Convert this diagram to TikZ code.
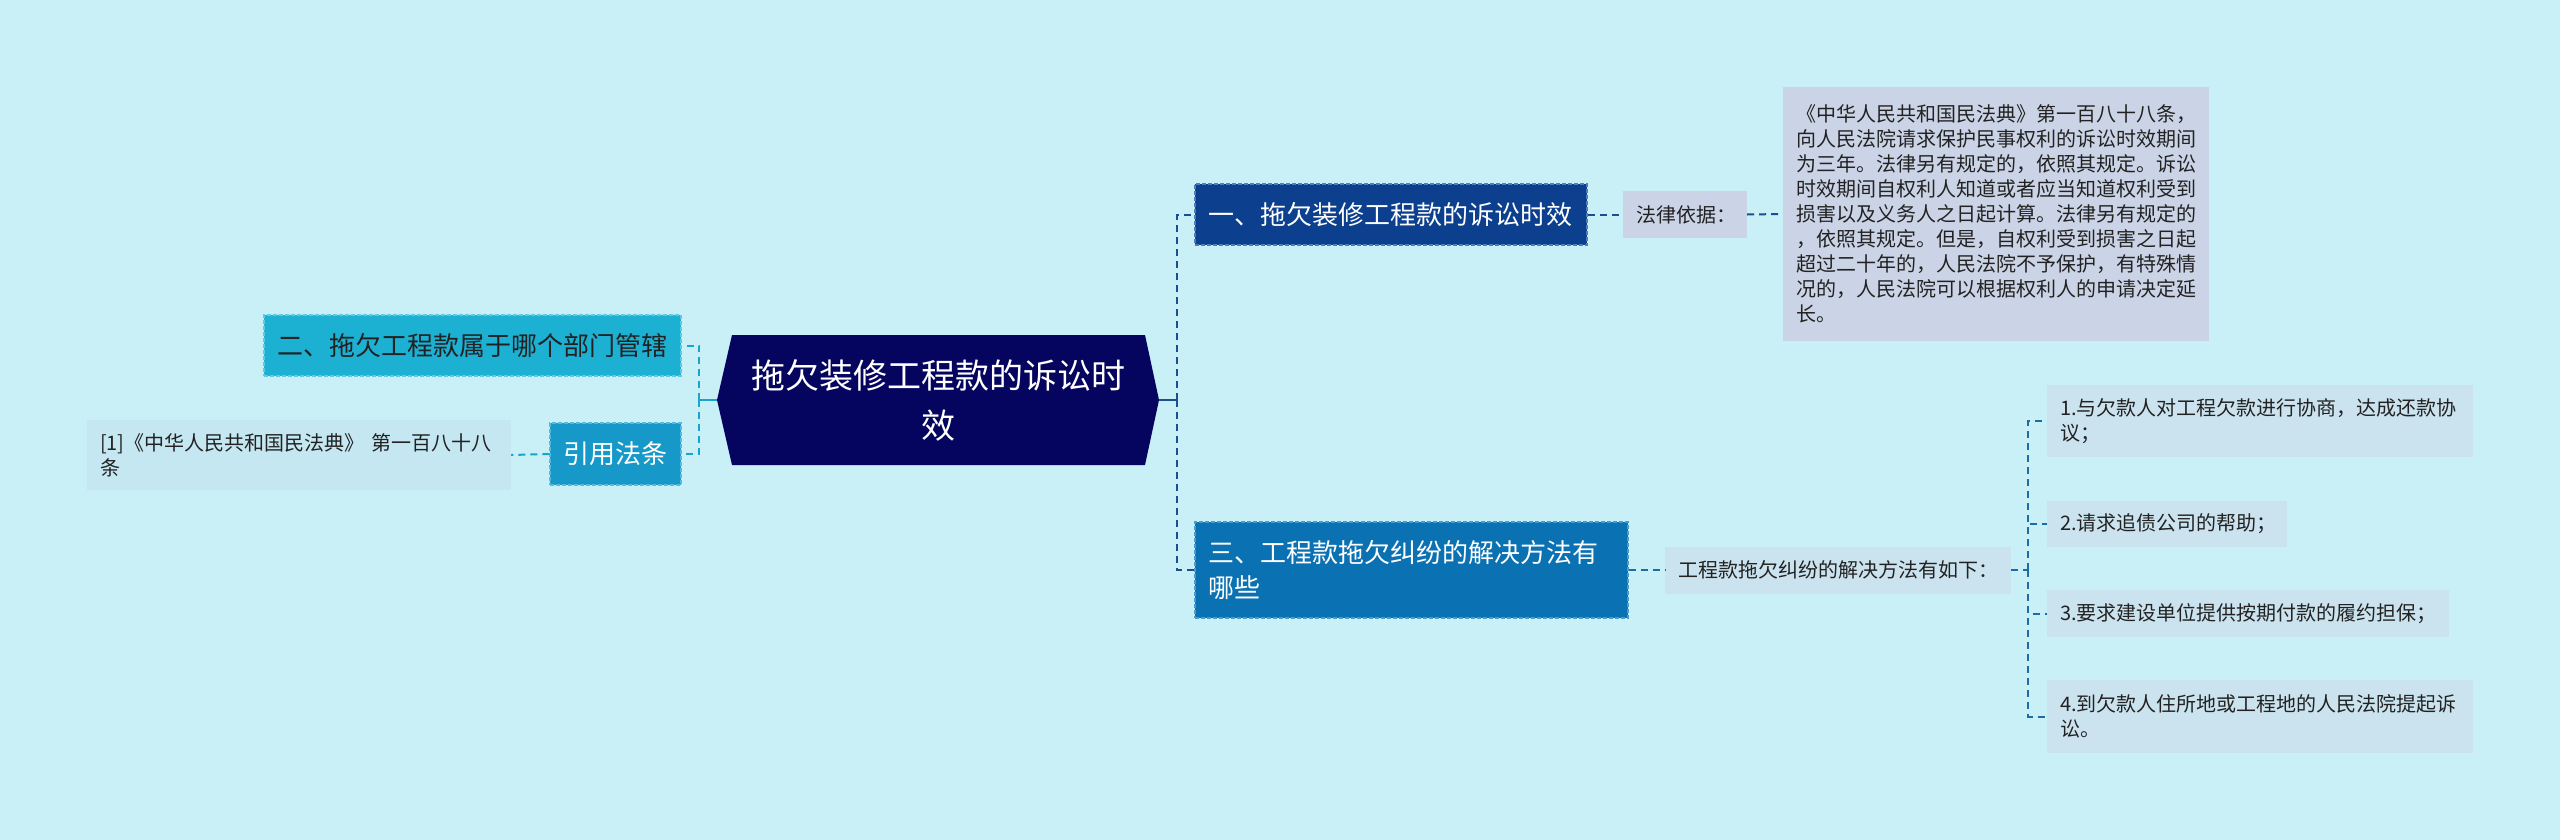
\documentclass[tikz,border=0pt]{standalone}
\usepackage{fontspec}
\newfontfamily\cjk{Noto Sans CJK SC}
\usetikzlibrary{calc}
\definecolor{bg}{HTML}{C9EFF7}
\definecolor{rootc}{HTML}{05055F}
\definecolor{nA}{HTML}{0C3F8E}
\definecolor{nAb}{HTML}{4F7DBA}
\definecolor{nC}{HTML}{0A71B3}
\definecolor{nCb}{HTML}{4A9BD0}
\definecolor{nB}{HTML}{1CB0D3}
\definecolor{nBb}{HTML}{5FCBE3}
\definecolor{nD}{HTML}{1699C9}
\definecolor{nDb}{HTML}{58B9DE}
\definecolor{leafG}{HTML}{CBD4E6}
\definecolor{leafB}{HTML}{CBE3EE}
\definecolor{leafR}{HTML}{C4E7F1}
\definecolor{cR}{HTML}{1B4F8F}
\definecolor{cI}{HTML}{1C6CA6}
\definecolor{cL}{HTML}{1AA3CC}
\definecolor{txt}{HTML}{222222}
\begin{document}
\begin{tikzpicture}[x=1pt,y=-1pt,
  box/.style={rectangle, anchor=center, inner xsep=13pt, inner ysep=0pt, align=left},
  lvl/.style={box, font=\cjk\fontsize{26}{35}\selectfont, line width=1.3pt, dash pattern=on 4pt off 2pt},
  leaf/.style={box, font=\cjk\fontsize{20}{25}\selectfont, text=txt},
  con/.style={line width=2pt, dash pattern=on 7pt off 5pt},
  solidcon/.style={line width=2.5pt}]
\fill[bg] (0,0) rectangle (2560,840);
\useasboundingbox (0,0) rectangle (2560,840);

% root
\coordinate (rootL) at (717,400);
\coordinate (rootR) at (1159,400);
\fill[rootc] (732,335) -- (1145,335) -- (rootR) -- (1145,465) -- (732,465) -- (rootL) -- cycle;
\node[font=\cjk\fontsize{34}{50}\selectfont, text=white, align=center] (root) at (938,400) {拖欠装修工程款的诉讼时\\效};

% level 1 right
\node[lvl, fill=nA, draw=nAb, text=white, text width=366pt, minimum height=61pt] (n1) at (1391,214.5) {一、拖欠装修工程款的诉讼时效};
\node[lvl, fill=nC, draw=nCb, text=white, text width=407pt, minimum height=96pt] (n3) at (1411.5,570) {三、工程款拖欠纠纷的解决方法有\\哪些};

% level 1 left
\node[lvl, fill=nB, draw=nBb, text=txt, text width=391pt, minimum height=61pt] (n2) at (472.5,345.5) {二、拖欠工程款属于哪个部门管辖};
\node[lvl, fill=nD, draw=nDb, text=white, text width=105pt, minimum height=62pt] (yin) at (615.5,454) {引用法条};

% leaves
\node[leaf, fill=leafG, text width=98pt, minimum height=47pt] (fa) at (1685,214.5) {法律依据：};
\node[leaf, fill=leafG, text width=400pt, minimum height=254pt] (big) at (1996,214) {《中华人民共和国民法典》第一百八十八条，\\向人民法院请求保护民事权利的诉讼时效期间\\为三年。法律另有规定的，依照其规定。诉讼\\时效期间自权利人知道或者应当知道权利受到\\损害以及义务人之日起计算。法律另有规定的\\，依照其规定。但是，自权利受到损害之日起\\超过二十年的，人民法院不予保护，有特殊情\\况的，人民法院可以根据权利人的申请决定延\\长。};
\node[leaf, fill=leafB, text width=320pt, minimum height=47pt] (ru) at (1838,570) {工程款拖欠纠纷的解决方法有如下：};
\node[leaf, fill=leafB, text width=400pt, minimum height=72pt] (it1) at (2260,421) {1.与欠款人对工程欠款进行协商，达成还款协\\议；};
\node[leaf, fill=leafB, text width=214pt, minimum height=46pt] (it2) at (2167,524) {2.请求追债公司的帮助；};
\node[leaf, fill=leafB, text width=376pt, minimum height=47pt] (it3) at (2248,613.5) {3.要求建设单位提供按期付款的履约担保；};
\node[leaf, fill=leafB, text width=400pt, minimum height=73pt] (it4) at (2260,716.5) {4.到欠款人住所地或工程地的人民法院提起诉\\讼。};
\node[leaf, fill=leafR, text width=398pt, minimum height=70pt] (ref) at (299,455) {[1]《中华人民共和国民法典》 第一百八十八\\条};

% junctions
\coordinate (jR) at (1177,400);
\coordinate (jL) at (699,400);
\coordinate (jI) at (2028,570);

% right connectors
\draw[cR, solidcon] (rootR) -- (jR);
\draw[cR, solidcon] ($(jR)+(0,-7)$) -- ($(jR)+(0,7)$);
\draw[cR, con] (jR) |- (n1.west);
\draw[cR, con] (jR) |- (n3.west);
\draw[cR, con] (n1.east) -- (fa.west);
\draw[cR, con] (fa.east) -- (big.west);
\draw[cI, con] (n3.east) -- (ru.west);
\draw[cI, con] (ru.east) -- (jI);
\draw[cI, line width=2pt] ($(jI)+(0,-7)$) -- ($(jI)+(0,7)$);
\draw[cI, con] (jI) |- (it1.west);
\draw[cI, con] (jI) |- (it2.west);
\draw[cI, con] (jI) |- (it3.west);
\draw[cI, con] (jI) |- (it4.west);

% left connectors
\draw[cL, solidcon] (rootL) -- (jL);
\draw[cL, solidcon] ($(jL)+(0,-7)$) -- ($(jL)+(0,7)$);
\draw[cL, con] (jL) |- (n2.east);
\draw[cL, con] (jL) |- (yin.east);
\draw[cL, con] (yin.west) -- (ref.east);
\end{tikzpicture}
\end{document}
